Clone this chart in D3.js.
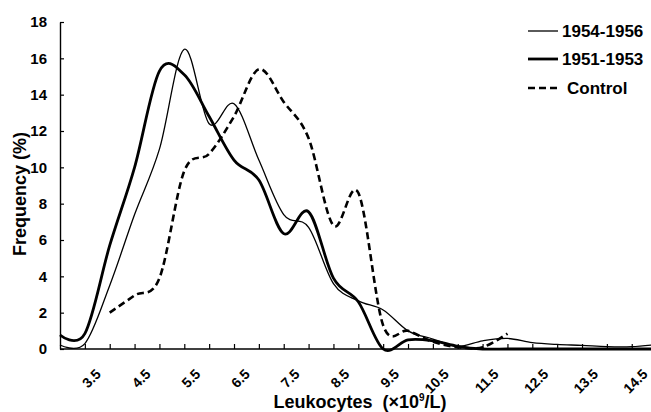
<!DOCTYPE html>
<html>
<head>
<meta charset="utf-8">
<script src="https://cdn.jsdelivr.net/npm/d3@7"></script>
<style>
  html, body { margin: 0; padding: 0; background: #fff; }
  svg { display: block; font-family: "Liberation Sans", Arial, sans-serif; }
</style>
</head>
<body>
<svg id="chart" width="651" height="412"></svg>
<script>
// ---- data ----
const categories = [2.5, 3.0, 3.5, 4.0, 4.5, 5.0, 5.5, 6.0, 6.5, 7.0, 7.5, 8.0, 8.5,
                    9.0, 9.5, 10.0, 10.5, 11.0, 11.5, 12.0, 12.5, 13.0, 13.5, 14.0, 14.5];
const series1954 = [0.22, 0.3, 3.5, 7.4, 11.0, 16.5, 12.4, 13.5, 10.4, 7.4, 6.7, 3.6, 2.65,
                    2.15, 1.0, 0.55, 0.15, 0.45, 0.58, 0.35, 0.25, 0.2, 0.13, 0.13, 0.25];
const series1951 = [0.77, 0.85, 5.7, 10.0, 15.3, 15.1, 12.8, 10.4, 9.3, 6.35, 7.55, 3.9, 2.6,
                    0.0, 0.5, 0.45, 0.15, 0.0, 0.0, 0.0, 0.0, 0.0, 0.0, 0.0, 0.0];
const seriesControl = [null, null, 2.0, 2.95, 3.9, 9.8, 10.75, 12.8, 15.4, 13.6, 11.6, 6.8, 8.6,
                       1.3, 1.0, 0.4, 0.1, 0.1, 0.85, null, null, null, null, null, null];
const yTicks = [0, 2, 4, 6, 8, 10, 12, 14, 16, 18];
const xTickLabels = ["3.5", "4.5", "5.5", "6.5", "7.5", "8.5", "9.5", "10.5", "11.5", "12.5", "13.5", "14.5"];
const legendLabels = ["1954-1956", "1951-1953", "Control"];

// ---- layout ----
const svg = d3.select("#chart");
const x = d3.scaleLinear().domain([2.5, 14.5]).range([60, 656.6]);
const y = d3.scaleLinear().domain([0, 18]).range([349, 22]);

// y axis
const yAxis = d3.axisLeft(y).tickValues(yTicks).tickSizeInner(-4).tickSizeOuter(0).tickPadding(13);
const gy = svg.append("g").attr("transform", "translate(60,0)").call(yAxis);
gy.select(".domain").attr("stroke", "#000").attr("stroke-width", 1.4);
gy.selectAll(".tick line").attr("stroke", "#000").attr("stroke-width", 1.2);
gy.selectAll(".tick text").attr("font-size", 15).attr("font-weight", "bold")
  .attr("font-family", "Liberation Sans, Arial, sans-serif").attr("fill", "#000");

// x axis
const xTickVals = d3.range(3.0, 14.51, 0.5);
const xAxis = d3.axisBottom(x).tickValues(xTickVals).tickSizeInner(-5).tickSizeOuter(0).tickFormat("");
const gx = svg.append("g").attr("transform", "translate(0,349)").call(xAxis);
gx.select(".domain").attr("stroke", "#000").attr("stroke-width", 1.6)
  .attr("d", "M60,0H651");
gx.selectAll(".tick line").attr("stroke", "#000").attr("stroke-width", 1.2);

// rotated x labels
svg.append("g").selectAll("text").data(xTickLabels).join("text")
  .attr("transform", d => `translate(${x(+d) - 8},375) rotate(-45)`)
  .attr("text-anchor", "end")
  .attr("font-size", 14).attr("font-weight", "bold").attr("fill", "#000")
  .text(d => d);

// lines
const line = d3.line()
  .defined(d => d[1] !== null)
  .x(d => x(d[0])).y(d => y(d[1]))
  .curve(d3.curveCardinal.tension(0));

const mk = arr => categories.map((c, i) => [c, arr[i]]);

svg.append("path").datum(mk(seriesControl)).attr("d", line)
  .attr("fill", "none").attr("stroke", "#000").attr("stroke-width", 2.6)
  .attr("stroke-dasharray", "7,4");
svg.append("path").datum(mk(series1951)).attr("d", line)
  .attr("fill", "none").attr("stroke", "#000").attr("stroke-width", 2.8);
svg.append("path").datum(mk(series1954)).attr("d", line)
  .attr("fill", "none").attr("stroke", "#000").attr("stroke-width", 1.3);

// legend
const legendY = [31, 59, 88];
const legendW = [1.3, 2.8, 2.6];
const legendDash = [null, null, "7,4"];
const lg = svg.append("g");
legendLabels.forEach((lab, i) => {
  lg.append("line").attr("x1", 528).attr("x2", 558).attr("y1", legendY[i]).attr("y2", legendY[i])
    .attr("stroke", "#000").attr("stroke-width", legendW[i])
    .attr("stroke-dasharray", legendDash[i]);
  lg.append("text").attr("x", i === 2 ? 567 : 562).attr("y", legendY[i]).attr("dy", "0.36em")
    .attr("font-size", 17).attr("font-weight", "bold").attr("fill", "#000").text(lab);
});

// axis titles
svg.append("text").attr("transform", "translate(26,194) rotate(-90)")
  .attr("text-anchor", "middle").attr("font-size", 18).attr("font-weight", "bold").attr("fill", "#000")
  .text("Frequency (%)");

const xt = svg.append("text").attr("x", 360).attr("y", 408).attr("text-anchor", "middle")
  .attr("font-size", 18).attr("font-weight", "bold").attr("fill", "#000");
xt.append("tspan").text("Leukocytes \u00a0(×10");
xt.append("tspan").attr("font-size", 10).attr("dy", -7).text("9");
xt.append("tspan").attr("dy", 7).text("/L)");
</script>
</body>
</html>
